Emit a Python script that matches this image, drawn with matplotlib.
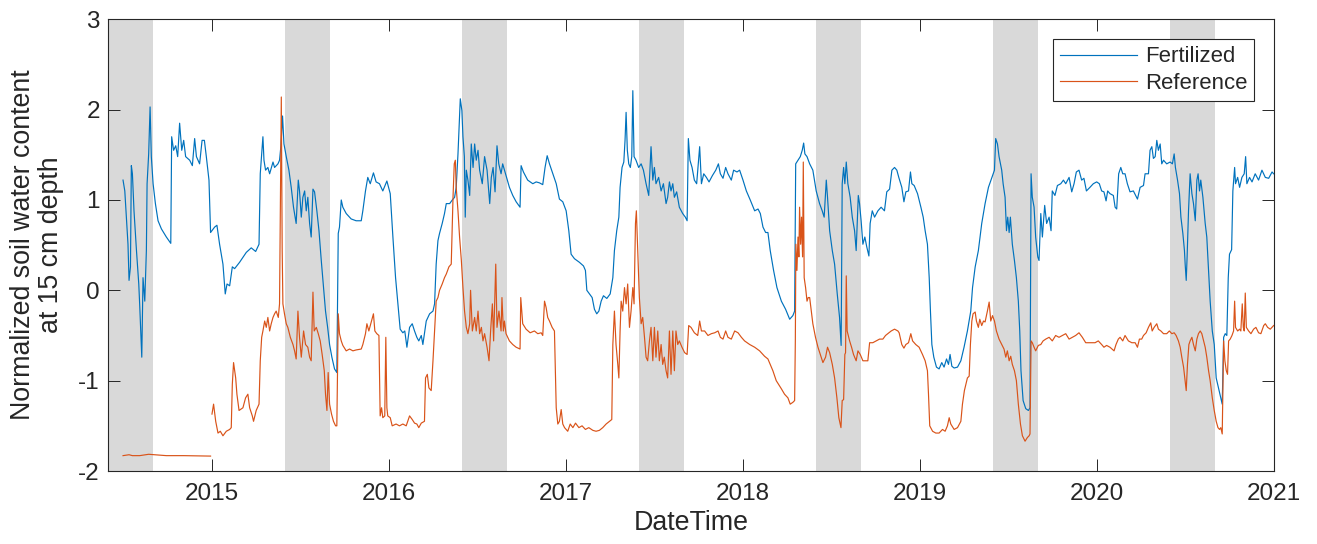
import numpy as np
import matplotlib
matplotlib.use("Agg")
import matplotlib.pyplot as plt
import matplotlib.dates as mdates
from datetime import datetime

# ---------------- data (decimal years, normalized values) ----------------
fert_year = [
    2014.497, 2014.507, 2014.516, 2014.525, 2014.531, 2014.539, 2014.544, 2014.550, 2014.559, 2014.573,
    2014.586, 2014.591, 2014.603, 2014.610, 2014.620, 2014.629, 2014.633, 2014.642, 2014.650, 2014.657,
    2014.667, 2014.680, 2014.695, 2014.714, 2014.742, 2014.767, 2014.772, 2014.783, 2014.795, 2014.806,
    2014.817, 2014.829, 2014.840, 2014.851, 2014.874, 2014.889, 2014.902, 2014.912, 2014.930, 2014.944,
    2014.957, 2014.968, 2014.983, 2014.992, 2015.015, 2015.028, 2015.043, 2015.062, 2015.075, 2015.085,
    2015.100, 2015.115, 2015.128, 2015.156, 2015.194, 2015.222, 2015.247, 2015.266, 2015.273, 2015.288,
    2015.294, 2015.303, 2015.316, 2015.326, 2015.345, 2015.354, 2015.373, 2015.382, 2015.390, 2015.399,
    2015.407, 2015.420, 2015.435, 2015.448, 2015.461, 2015.476, 2015.488,
    2015.495, 2015.505, 2015.514, 2015.524, 2015.533, 2015.542, 2015.552, 2015.561, 2015.571, 2015.580,
    2015.593, 2015.605, 2015.618, 2015.631, 2015.642, 2015.654, 2015.665, 2015.678, 2015.693, 2015.706,
    2015.714, 2015.721, 2015.731, 2015.740, 2015.759, 2015.787, 2015.815, 2015.844, 2015.853, 2015.868,
    2015.881, 2015.895, 2015.913, 2015.928, 2015.947, 2015.966, 2015.989, 2016.008, 2016.023, 2016.038,
    2016.051, 2016.064, 2016.079, 2016.090, 2016.102, 2016.117, 2016.132, 2016.145, 2016.158, 2016.169,
    2016.183, 2016.192, 2016.211, 2016.230, 2016.249, 2016.258, 2016.267, 2016.277, 2016.286, 2016.301,
    2016.314, 2016.324, 2016.343, 2016.358, 2016.371, 2016.380, 2016.390, 2016.403, 2016.412, 2016.418,
    2016.426, 2016.431, 2016.437, 2016.446, 2016.456, 2016.465, 2016.475, 2016.484, 2016.493, 2016.503,
    2016.512, 2016.527, 2016.540, 2016.554, 2016.569, 2016.578, 2016.588, 2016.599, 2016.610, 2016.620,
    2016.633, 2016.642, 2016.652, 2016.661, 2016.680, 2016.699, 2016.718, 2016.740, 2016.746, 2016.759,
    2016.783, 2016.812, 2016.831, 2016.849, 2016.868, 2016.881, 2016.893, 2016.906, 2016.925, 2016.944,
    2016.962, 2016.981, 2017.000, 2017.015, 2017.028, 2017.047, 2017.075, 2017.098, 2017.109, 2017.117,
    2017.132, 2017.147, 2017.160, 2017.173, 2017.185, 2017.198, 2017.211, 2017.230, 2017.249, 2017.264,
    2017.273, 2017.286, 2017.298, 2017.305, 2017.316, 2017.326, 2017.333, 2017.339, 2017.346, 2017.354,
    2017.363, 2017.371, 2017.377, 2017.384, 2017.395, 2017.410, 2017.424, 2017.437, 2017.452, 2017.467,
    2017.480, 2017.490, 2017.499, 2017.508, 2017.523, 2017.537, 2017.550, 2017.565, 2017.574, 2017.584,
    2017.593, 2017.603, 2017.612, 2017.625, 2017.640, 2017.659, 2017.674, 2017.684, 2017.691, 2017.700,
    2017.712, 2017.725, 2017.738,
    2017.755, 2017.765, 2017.778, 2017.793, 2017.808, 2017.827, 2017.846, 2017.861, 2017.872, 2017.887,
    2017.902, 2017.915, 2017.934, 2017.947, 2017.966, 2017.981, 2018.000, 2018.019, 2018.041, 2018.066,
    2018.085, 2018.098, 2018.113, 2018.128, 2018.141, 2018.154, 2018.173, 2018.192, 2018.217, 2018.241,
    2018.264, 2018.282, 2018.292, 2018.298, 2018.311, 2018.324, 2018.335, 2018.343, 2018.350, 2018.362,
    2018.377, 2018.395, 2018.414, 2018.433, 2018.448, 2018.459, 2018.471, 2018.478, 2018.490, 2018.505,
    2018.518, 2018.533, 2018.546, 2018.555, 2018.561, 2018.569, 2018.576, 2018.584, 2018.593, 2018.606,
    2018.618, 2018.631, 2018.640, 2018.652, 2018.659, 2018.668, 2018.678, 2018.689, 2018.700, 2018.712,
    2018.719, 2018.731, 2018.744, 2018.763, 2018.781, 2018.800, 2018.813, 2018.829, 2018.842, 2018.857,
    2018.870, 2018.881,
    2018.898, 2018.910, 2018.921, 2018.936, 2018.947, 2018.955, 2018.968, 2018.987, 2019.006, 2019.019,
    2019.030, 2019.043, 2019.053, 2019.060, 2019.068, 2019.079, 2019.094, 2019.109, 2019.124, 2019.137,
    2019.151, 2019.162, 2019.171, 2019.181, 2019.194, 2019.213, 2019.232, 2019.250, 2019.269, 2019.288,
    2019.298, 2019.313, 2019.331, 2019.350, 2019.369, 2019.388, 2019.411, 2019.422, 2019.429, 2019.439,
    2019.448, 2019.463, 2019.471, 2019.482, 2019.490, 2019.497, 2019.505, 2019.512, 2019.523, 2019.535,
    2019.546, 2019.557, 2019.565, 2019.572, 2019.584, 2019.599, 2019.614, 2019.623, 2019.629, 2019.636,
    2019.646, 2019.655, 2019.667, 2019.674, 2019.684, 2019.693, 2019.706, 2019.717, 2019.731, 2019.742,
    2019.749, 2019.764, 2019.778, 2019.797, 2019.812, 2019.825, 2019.844, 2019.859, 2019.872, 2019.885,
    2019.900, 2019.915, 2019.928, 2019.942,
    2019.962, 2019.981, 2020.000, 2020.015, 2020.028, 2020.041, 2020.053, 2020.062, 2020.075, 2020.094,
    2020.104, 2020.113, 2020.124, 2020.136, 2020.147, 2020.160, 2020.173, 2020.188, 2020.207, 2020.230,
    2020.245, 2020.264, 2020.273, 2020.292, 2020.301, 2020.311, 2020.320, 2020.330, 2020.339, 2020.348,
    2020.358, 2020.367, 2020.377, 2020.395, 2020.414, 2020.427, 2020.437, 2020.444, 2020.456, 2020.467,
    2020.475, 2020.486, 2020.495, 2020.499, 2020.505, 2020.510, 2020.518, 2020.527, 2020.537, 2020.546,
    2020.556, 2020.565, 2020.572, 2020.580, 2020.587, 2020.599, 2020.612, 2020.621, 2020.631, 2020.640,
    2020.652, 2020.663, 2020.674, 2020.687, 2020.700, 2020.708, 2020.716, 2020.725, 2020.734, 2020.742,
    2020.749, 2020.761, 2020.768, 2020.778, 2020.783, 2020.795, 2020.806, 2020.819, 2020.832, 2020.840,
    2020.847, 2020.862, 2020.876, 2020.894, 2020.913, 2020.932, 2020.951, 2020.970, 2020.989, 2020.998,
]
fert_val = [
    1.22, 1.10, 0.81, 0.51, 0.11, 0.26, 1.38, 1.29, 0.88, 0.44,
    0.07, -0.15, -0.74, 0.14, -0.12, 0.44, 1.18, 1.51, 2.03, 1.48,
    1.18, 0.96, 0.77, 0.68, 0.59, 0.52, 1.70, 1.55, 1.60, 1.48,
    1.85, 1.55, 1.66, 1.48, 1.44, 1.38, 1.68, 1.48, 1.40, 1.66,
    1.66, 1.48, 1.22, 0.64, 0.70, 0.72, 0.51, 0.29, -0.04, 0.07,
    0.05, 0.26, 0.24, 0.31, 0.42, 0.47, 0.43, 0.51, 1.29, 1.70,
    1.44, 1.33, 1.36, 1.29, 1.42, 1.36, 1.40, 1.44, 1.60, 1.93,
    1.62, 1.48, 1.33, 1.14, 0.92, 0.74, 1.22,
    1.10, 0.81, 1.03, 1.10, 0.88, 1.03, 0.74, 0.59, 1.12, 1.09,
    0.88, 0.66, 0.33, 0.03, -0.23, -0.41, -0.60, -0.74, -0.87, -0.91,
    0.63, 0.70, 1.00, 0.92, 0.85, 0.79, 0.77, 0.77, 0.88, 1.10,
    1.25, 1.18, 1.30, 1.20, 1.18, 1.10, 1.21, 1.07, 0.59, 0.14,
    -0.15, -0.43, -0.47, -0.45, -0.63, -0.41, -0.37, -0.45, -0.52, -0.56,
    -0.50, -0.60, -0.34, -0.26, -0.23, -0.15, 0.29, 0.55, 0.63, 0.74,
    0.85, 0.96, 0.96, 1.00, 1.03, 1.14, 1.51, 2.12, 1.99, 1.70,
    1.48, 0.81, 1.33, 1.22, 1.05, 1.62, 1.36, 1.62, 1.44, 1.55,
    1.33, 1.18, 1.48, 1.33, 0.96, 1.25, 1.36, 1.09, 1.60, 1.40,
    1.29, 1.40, 1.33, 1.27, 1.14, 1.05, 0.98, 0.92, 1.38, 1.31,
    1.22, 1.18, 1.20, 1.19, 1.17, 1.36, 1.49, 1.40, 1.29, 1.18,
    1.01, 0.98, 0.88, 0.66, 0.40, 0.35, 0.31, 0.27, 0.22, 0.00,
    -0.04, -0.08, -0.21, -0.26, -0.23, -0.12, -0.06, -0.09, -0.04, 0.14,
    0.44, 0.66, 0.81, 1.14, 1.36, 1.42, 1.66, 1.97, 1.55, 1.40,
    1.36, 1.48, 2.21, 1.48, 1.44, 1.36, 1.40, 1.33, 1.18, 1.05,
    1.59, 1.22, 1.36, 1.18, 1.25, 1.10, 1.18, 0.96, 1.03, 1.20,
    1.10, 1.18, 1.03, 1.09, 0.92, 0.85, 0.81, 0.77, 1.68, 1.44,
    1.36, 1.22, 1.18,
    1.59, 1.18, 1.29, 1.25, 1.20, 1.27, 1.33, 1.40, 1.29, 1.24,
    1.36, 1.29, 1.22, 1.33, 1.31, 1.33, 1.22, 1.10, 1.00, 0.88,
    0.90, 0.85, 0.70, 0.64, 0.64, 0.44, 0.22, 0.03, -0.12, -0.21,
    -0.32, -0.28, -0.23, 1.40, 1.44, 1.48, 1.55, 1.63, 1.51, 1.48,
    1.40, 1.33, 1.10, 0.96, 0.88, 0.81, 1.22, 1.03, 0.66, 0.44,
    0.29, -0.04, -0.30, -0.61, 1.18, 1.36, 1.18, 1.42, 1.18, 1.03,
    0.81, 0.66, 0.44, 1.05, 0.96, 0.77, 0.51, 0.59, 0.48, 0.38,
    0.74, 0.88, 0.81, 0.88, 0.92, 0.88, 1.09, 1.12, 1.33, 1.36,
    1.33, 1.25,
    1.14, 0.98, 1.09, 1.10, 1.31, 1.18, 1.16, 1.07, 0.92, 0.81,
    0.66, 0.51, 0.14, -0.23, -0.60, -0.74, -0.85, -0.87, -0.80, -0.85,
    -0.76, -0.82, -0.71, -0.84, -0.86, -0.85, -0.78, -0.63, -0.45, -0.23,
    0.03, 0.26, 0.44, 0.74, 0.96, 1.14, 1.27, 1.33, 1.68, 1.62,
    1.48, 1.33, 1.18, 1.03, 0.66, 0.81, 0.64, 0.81, 0.51, 0.33,
    0.14, -0.12, -0.45, -0.89, -1.22, -1.31, -1.33, -1.30, 1.29, 1.03,
    0.92, 0.59, 0.37, 0.33, 0.85, 0.59, 0.94, 0.74, 0.81, 0.66,
    1.10, 1.05, 1.16, 1.18, 1.22, 1.18, 1.25, 1.09, 1.18, 1.31,
    1.33, 1.22, 1.24, 1.10,
    1.14, 1.18, 1.20, 1.18, 1.10, 1.09, 0.99, 1.10, 1.07, 1.05,
    0.92, 0.90, 1.29, 1.36, 1.29, 1.29, 1.18, 1.09, 1.10, 1.01,
    1.14, 1.16, 1.29, 1.29, 1.55, 1.59, 1.46, 1.48, 1.66, 1.55,
    1.62, 1.40, 1.44, 1.40, 1.42, 1.40, 1.51, 1.36, 1.22, 1.07,
    0.81, 0.63, 0.44, 0.29, 0.11, 0.37, 0.88, 1.29, 1.07, 0.96,
    0.77, 1.22, 1.29, 1.10, 1.22, 1.03, 0.74, 0.59, 0.22, -0.12,
    -0.45, -0.60, -0.97, -1.08, -1.19, -1.26, -0.52, -0.48, -0.50, 0.14,
    0.40, 0.45, 1.10, 1.36, 1.18, 1.25, 1.14, 1.25, 1.29, 1.48,
    1.18, 1.25, 1.20, 1.29, 1.22, 1.33, 1.25, 1.24, 1.31, 1.29,
]

ref_year = [
    2014.497, 2014.531, 2014.550, 2014.591, 2014.642, 2014.742, 2014.840, 2014.992, 2014.996,
    2015.000, 2015.009, 2015.021, 2015.034, 2015.047, 2015.062, 2015.081, 2015.100, 2015.109, 2015.115,
    2015.122, 2015.134, 2015.141, 2015.153, 2015.175, 2015.190, 2015.203, 2015.213, 2015.228, 2015.235,
    2015.250, 2015.266, 2015.273, 2015.281, 2015.288, 2015.298, 2015.307, 2015.316, 2015.326, 2015.335,
    2015.345, 2015.354, 2015.363, 2015.375, 2015.382, 2015.388, 2015.392, 2015.397, 2015.401, 2015.410,
    2015.420, 2015.429, 2015.443, 2015.458, 2015.467, 2015.476, 2015.486,
    2015.495, 2015.505, 2015.518, 2015.529, 2015.542, 2015.552, 2015.561, 2015.571, 2015.578, 2015.590,
    2015.601, 2015.612, 2015.623, 2015.635, 2015.642, 2015.650, 2015.657, 2015.665, 2015.676, 2015.687,
    2015.699, 2015.706, 2015.714, 2015.721, 2015.731, 2015.740, 2015.759, 2015.778, 2015.797, 2015.815,
    2015.844, 2015.853, 2015.868, 2015.876, 2015.887, 2015.898, 2015.913, 2015.921, 2015.932, 2015.944,
    2015.951, 2015.959, 2015.966, 2015.977, 2015.983, 2015.989, 2015.994, 2016.008, 2016.019, 2016.041,
    2016.060, 2016.079, 2016.098, 2016.117, 2016.132, 2016.145, 2016.158, 2016.169, 2016.183, 2016.201,
    2016.207, 2016.217, 2016.226, 2016.239, 2016.249, 2016.258, 2016.267, 2016.277, 2016.286, 2016.301,
    2016.314, 2016.324, 2016.339, 2016.352, 2016.362, 2016.369, 2016.375, 2016.380, 2016.390, 2016.399,
    2016.409, 2016.418, 2016.427, 2016.437, 2016.446, 2016.456, 2016.461, 2016.471, 2016.484, 2016.493,
    2016.503, 2016.512, 2016.522, 2016.531, 2016.540, 2016.554, 2016.565, 2016.574, 2016.584, 2016.591,
    2016.603, 2016.610, 2016.621,
    2016.633, 2016.638, 2016.646, 2016.652, 2016.661, 2016.680, 2016.699, 2016.718, 2016.740, 2016.744,
    2016.755, 2016.774, 2016.797, 2016.821, 2016.840, 2016.859, 2016.868, 2016.878, 2016.887, 2016.896,
    2016.906, 2016.921, 2016.934, 2016.944, 2016.953, 2016.962, 2016.972, 2016.981, 2016.991, 2017.009,
    2017.023, 2017.038, 2017.053, 2017.072, 2017.090, 2017.109, 2017.128, 2017.151, 2017.169, 2017.188,
    2017.207, 2017.226, 2017.245, 2017.258, 2017.264, 2017.273, 2017.282, 2017.292, 2017.298, 2017.305,
    2017.311, 2017.320, 2017.330, 2017.339, 2017.348, 2017.358, 2017.367, 2017.377, 2017.384, 2017.392,
    2017.397, 2017.405, 2017.414, 2017.424, 2017.433, 2017.443, 2017.452, 2017.461, 2017.471, 2017.480,
    2017.490, 2017.499, 2017.508, 2017.518, 2017.527, 2017.537, 2017.546, 2017.555, 2017.565, 2017.574,
    2017.584, 2017.593, 2017.603, 2017.612, 2017.621, 2017.631, 2017.640, 2017.655, 2017.670, 2017.684,
    2017.693, 2017.706, 2017.725, 2017.744,
    2017.755, 2017.765, 2017.783, 2017.802, 2017.821, 2017.840, 2017.859, 2017.872, 2017.887, 2017.902,
    2017.915, 2017.934, 2017.953, 2017.972, 2017.991, 2018.009, 2018.038, 2018.066, 2018.094, 2018.122,
    2018.141, 2018.154, 2018.169, 2018.188, 2018.217, 2018.235, 2018.254, 2018.267, 2018.282, 2018.292,
    2018.296, 2018.299, 2018.305, 2018.311, 2018.316, 2018.320, 2018.326, 2018.331, 2018.337, 2018.341,
    2018.346, 2018.354, 2018.362, 2018.369, 2018.377, 2018.386, 2018.395, 2018.410, 2018.424, 2018.437,
    2018.452, 2018.467, 2018.478, 2018.490, 2018.505, 2018.518, 2018.531, 2018.542, 2018.554, 2018.561,
    2018.569, 2018.576, 2018.580, 2018.584, 2018.589, 2018.603, 2018.614, 2018.625, 2018.640, 2018.650,
    2018.663, 2018.678, 2018.706, 2018.716, 2018.734, 2018.753, 2018.772, 2018.791, 2018.806, 2018.819,
    2018.838, 2018.857, 2018.876,
    2018.883, 2018.898, 2018.910, 2018.921, 2018.936, 2018.949, 2018.959, 2018.977, 2018.996, 2019.015,
    2019.030, 2019.043, 2019.049, 2019.056, 2019.072, 2019.090, 2019.109, 2019.128, 2019.143, 2019.156,
    2019.166, 2019.175, 2019.194, 2019.213, 2019.232, 2019.241, 2019.252, 2019.269, 2019.279, 2019.286,
    2019.294, 2019.301, 2019.313, 2019.320, 2019.331, 2019.339, 2019.350, 2019.360, 2019.369, 2019.382,
    2019.392, 2019.401, 2019.411, 2019.422, 2019.433, 2019.448, 2019.463, 2019.476, 2019.486, 2019.495,
    2019.505, 2019.514, 2019.523, 2019.535, 2019.546, 2019.557, 2019.569, 2019.580, 2019.595, 2019.608,
    2019.618, 2019.623, 2019.629, 2019.636, 2019.646, 2019.655, 2019.670, 2019.684, 2019.697, 2019.712,
    2019.731, 2019.749, 2019.768, 2019.787, 2019.806, 2019.825, 2019.844, 2019.862, 2019.881, 2019.900,
    2019.919, 2019.938,
    2019.962, 2019.991, 2020.009, 2020.028, 2020.041, 2020.056, 2020.075, 2020.098, 2020.109, 2020.122,
    2020.132, 2020.147, 2020.160, 2020.179, 2020.198, 2020.217, 2020.230, 2020.241, 2020.254, 2020.264,
    2020.279, 2020.292, 2020.305, 2020.313, 2020.324, 2020.339, 2020.348, 2020.362, 2020.377, 2020.395,
    2020.410, 2020.424, 2020.437, 2020.448, 2020.461, 2020.471, 2020.480, 2020.490, 2020.499, 2020.505,
    2020.512, 2020.520, 2020.527, 2020.537, 2020.546, 2020.556, 2020.565, 2020.574, 2020.584, 2020.593,
    2020.603, 2020.612, 2020.621, 2020.631, 2020.640, 2020.652, 2020.663, 2020.674, 2020.684, 2020.693,
    2020.700, 2020.708, 2020.716, 2020.723, 2020.731, 2020.738, 2020.744, 2020.753, 2020.763, 2020.772,
    2020.778, 2020.783, 2020.795, 2020.806, 2020.813, 2020.821, 2020.827, 2020.832, 2020.838, 2020.844,
    2020.857, 2020.870, 2020.885, 2020.898, 2020.913, 2020.926, 2020.942, 2020.951, 2020.964, 2020.979,
    2020.998,
]
ref_val = [
    -1.83, -1.82, -1.83, -1.83, -1.815, -1.83, -1.83, -1.835, np.nan,
    -1.37, -1.26, -1.45, -1.58, -1.56, -1.61, -1.56, -1.54, -1.52, -1.04,
    -0.80, -0.97, -1.15, -1.33, -1.30, -1.19, -1.15, -1.30, -1.39, -1.45,
    -1.33, -1.26, -0.78, -0.52, -0.45, -0.34, -0.41, -0.30, -0.45, -0.37,
    -0.30, -0.26, -0.23, -0.30, -0.15, 1.25, 2.14, 0.44, -0.15, -0.26,
    -0.37, -0.41, -0.52, -0.60, -0.67, -0.76, -0.23,
    -0.52, -0.74, -0.45, -0.60, -0.63, -0.74, -0.78, -0.02, -0.45, -0.41,
    -0.48, -0.56, -0.71, -0.89, -1.15, -1.33, -0.91, -1.26, -1.37, -1.45,
    -1.50, -1.50, -0.26, -0.48, -0.56, -0.61, -0.67, -0.65, -0.67, -0.66,
    -0.65, -0.60, -0.48, -0.37, -0.45, -0.37, -0.26, -0.45, -0.48, -0.50,
    -1.39, -1.30, -1.41, -1.39, -0.52, -1.30, -1.39, -1.41, -1.50, -1.48,
    -1.50, -1.48, -1.50, -1.39, -1.43, -1.47, -1.48, -1.52, -1.47, -1.45,
    -0.97, -0.93, -1.08, -1.11, -0.78, -0.45, -0.12, -0.08, 0.00, 0.07,
    0.14, 0.18, 0.26, 0.29, 1.03, 1.40, 1.44, 1.14, 0.88, 0.59,
    0.33, 0.03, -0.23, -0.41, -0.48, -0.37, 0.00, -0.45, -0.30, -0.45,
    -0.23, -0.48, -0.41, -0.56, -0.48, -0.63, -0.78, -0.45, -0.15, -0.56,
    0.29, -0.41, -0.23,
    -0.45, -0.08, -0.45, -0.34, -0.48, -0.56, -0.60, -0.63, -0.65, -0.08,
    -0.37, -0.43, -0.47, -0.45, -0.48, -0.47, -0.50, -0.12, -0.19, -0.30,
    -0.34, -0.41, -0.45, -1.30, -1.48, -1.45, -1.32, -1.48, -1.52, -1.56,
    -1.48, -1.52, -1.47, -1.52, -1.50, -1.54, -1.52, -1.55, -1.56, -1.55,
    -1.52, -1.48, -1.45, -1.43, -0.60, -0.23, -0.60, -0.82, -0.97, -0.45,
    -0.12, -0.23, 0.03, -0.15, 0.07, -0.41, -0.23, 0.03, -0.15, 0.74,
    0.88, 0.44, -0.08, -0.37, -0.30, -0.52, -0.74, -0.78, -0.56, -0.41,
    -0.78, -0.41, -0.74, -0.45, -0.78, -0.60, -0.82, -0.74, -0.89, -0.97,
    -0.45, -0.93, -0.45, -0.89, -0.45, -0.60, -0.56, -0.63, -0.69, -0.71,
    -0.39, -0.41, -0.47, -0.50,
    -0.34, -0.45, -0.45, -0.50, -0.48, -0.47, -0.45, -0.52, -0.54, -0.45,
    -0.52, -0.54, -0.45, -0.47, -0.52, -0.56, -0.60, -0.63, -0.67, -0.73,
    -0.76, -0.82, -0.89, -1.00, -1.09, -1.15, -1.19, -1.26, -1.24, -1.22,
    -0.56, 0.51, 0.22, 0.59, 0.37, 0.92, 0.51, 0.81, 0.37, 1.42,
    0.14, 0.03, -0.12, -0.08, -0.08, -0.23, -0.37, -0.52, -0.63, -0.71,
    -0.80, -0.74, -0.63, -0.69, -0.82, -0.97, -1.19, -1.41, -1.52, -1.22,
    -1.21, -0.71, -0.69, 0.16, -0.45, -0.56, -0.63, -0.71, -0.78, -0.67,
    -0.71, -0.78, -0.78, -0.58, -0.58, -0.56, -0.54, -0.54, -0.50, -0.48,
    -0.45, -0.43, -0.45,
    -0.47, -0.60, -0.64, -0.60, -0.58, -0.48, -0.56, -0.60, -0.63, -0.71,
    -0.78, -0.89, -1.15, -1.50, -1.56, -1.58, -1.58, -1.54, -1.56, -1.50,
    -1.41, -1.48, -1.54, -1.52, -1.45, -1.26, -1.11, -0.97, -0.95, -0.60,
    -0.34, -0.26, -0.24, -0.34, -0.41, -0.32, -0.39, -0.34, -0.35, -0.23,
    -0.13, -0.34, -0.28, -0.34, -0.45, -0.54, -0.60, -0.65, -0.74, -0.67,
    -0.78, -0.73, -0.82, -0.89, -1.00, -1.26, -1.48, -1.61, -1.67, -1.63,
    -1.61, -1.59, -0.56, -0.58, -0.63, -0.67, -0.61, -0.60, -0.56, -0.54,
    -0.52, -0.56, -0.50, -0.52, -0.50, -0.48, -0.54, -0.52, -0.50, -0.47,
    -0.52, -0.58,
    -0.58, -0.58, -0.56, -0.60, -0.63, -0.61, -0.63, -0.67, -0.60, -0.54,
    -0.52, -0.56, -0.50, -0.56, -0.58, -0.58, -0.63, -0.54, -0.54, -0.50,
    -0.47, -0.41, -0.36, -0.45, -0.41, -0.37, -0.43, -0.45, -0.48, -0.48,
    -0.45, -0.48, -0.47, -0.50, -0.56, -0.63, -0.74, -0.85, -1.00, -1.11,
    -0.82, -0.60, -0.56, -0.52, -0.60, -0.67, -0.54, -0.48, -0.45, -0.48,
    -0.56, -0.63, -0.74, -0.89, -1.00, -1.19, -1.33, -1.45, -1.52, -1.54,
    -1.52, -1.59, -0.56, -0.78, -0.89, -0.93, -0.56, -0.54, -0.50, -0.45,
    -0.12, -0.41, -0.45, -0.43, -0.45, -0.15, -0.41, -0.45, -0.03, -0.41,
    -0.45, -0.48, -0.43, -0.41, -0.47, -0.48, -0.39, -0.37, -0.41, -0.43,
    -0.39,
]

series_labels = ["Fertilized", "Reference"]
band_years = [2014, 2015, 2016, 2017, 2018, 2019, 2020]
x_tick_years = [2015, 2016, 2017, 2018, 2019, 2020, 2021]
y_ticks = [-2, -1, 0, 1, 2, 3]


def to_datetime(t):
    y = int(np.floor(t))
    start = datetime(y, 1, 1)
    end = datetime(y + 1, 1, 1)
    return start + (t - y) * (end - start)


fert_dates = [to_datetime(t) for t in fert_year]
ref_dates = [to_datetime(t) for t in ref_year]

# ---------------- figure ----------------
plt.rcParams['font.family'] = ['Liberation Sans', 'DejaVu Sans']
plt.rcParams['axes.unicode_minus'] = False
W, H = 1317, 544
fig = plt.figure(figsize=(W / 100, H / 100), dpi=100)
ax = fig.add_axes([108.3 / W, 1 - 471 / H, (1274 - 108.3) / W, (471 - 19.3) / H])

txt = '#262626'
for y in band_years:
    ax.axvspan(datetime(y, 6, 1), datetime(y, 9, 1), color='#d9d9d9', lw=0, zorder=0)

ax.plot(fert_dates, fert_val, color='#0072BD', lw=0.85, label=series_labels[0], zorder=3)
ax.plot(ref_dates, ref_val, color='#D95319', lw=0.85, label=series_labels[1], zorder=3)

ax.set_xlim(datetime(2014, 6, 1), datetime(2021, 1, 1))
ax.set_ylim(-2, 3)
ax.set_xticks([datetime(y, 1, 1) for y in x_tick_years])
ax.xaxis.set_major_formatter(mdates.DateFormatter('%Y'))
ax.set_yticks(y_ticks)

ax.tick_params(direction='in', length=8.4, width=0.7, top=True, right=True,
               labelsize=17.5, colors=txt)
ax.tick_params(axis='x', pad=9)
ax.tick_params(axis='y', pad=6)
for s in ax.spines.values():
    s.set_color(txt)
    s.set_linewidth(0.8)

ax.set_xlabel('DateTime', fontsize=19.25, color=txt, labelpad=3)
ax.set_ylabel('Normalized soil water content\nat 15 cm depth', fontsize=19.25,
              color=txt, linespacing=1.08)
ax.yaxis.set_label_coords(-0.038, 0.5)

leg = ax.legend(loc='upper right', bbox_to_anchor=(1 - 19.7 / 1165.7, 1 - 20 / 451.7),
                borderaxespad=0, fontsize=15.9, frameon=True, fancybox=False,
                framealpha=1, edgecolor=txt, handlelength=3.5, handletextpad=0.33,
                borderpad=0.32, labelspacing=0.26)
leg.get_frame().set_linewidth(0.8)
for t in leg.get_texts():
    t.set_color(txt)

fig.savefig('out.png', dpi=100)
